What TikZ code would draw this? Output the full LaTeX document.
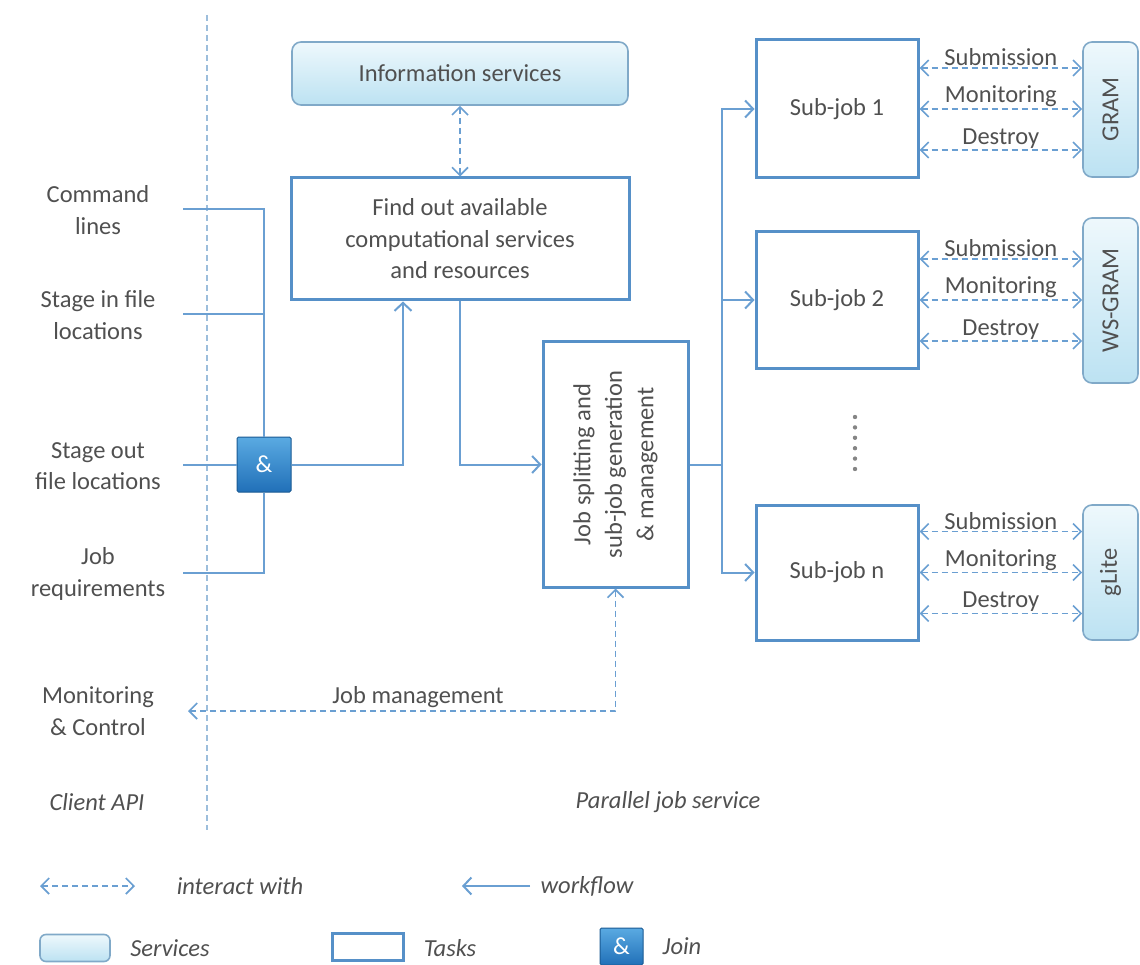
\documentclass[tikz,border=0pt]{standalone}
\usepackage{fontspec}
\setmainfont{Carlito}
\usetikzlibrary{arrows.meta,calc}
\definecolor{txt}{HTML}{505050}
\definecolor{wirec}{HTML}{6A9FD2}
\definecolor{taskc}{HTML}{5690C8}
\definecolor{servc}{HTML}{80A9C8}
\definecolor{servtop}{HTML}{EEF8FC}
\definecolor{servbot}{HTML}{BCE2F2}
\definecolor{jointop}{HTML}{5AAAE2}
\definecolor{joinbot}{HTML}{2170B8}
\definecolor{apiline}{HTML}{9DBEDC}
\begin{document}
\begin{tikzpicture}[x=1pt,y=-1pt,
  every node/.style={font=\fontsize{24.5}{31.5}\selectfont, text=txt},
  taskbox/.style={draw=taskc, line width=3pt, fill=white, align=center, inner sep=0pt},
  servbox/.style={draw=servc, line width=1.6pt, rounded corners=9pt, top color=servtop, bottom color=servbot, inner sep=0pt},
  joinbox/.style={draw=joinbot!80!black, line width=1pt, rounded corners=1.5pt, top color=jointop, bottom color=joinbot, text=white, inner sep=0pt},
  lbl/.style={align=center, inner sep=0pt},
  wire/.style={draw=wirec, line width=2pt},
  flow/.style={wire, -{Straight Barb[length=8pt,width=17pt,line width=2pt]}},
  interact/.style={draw=wirec, line width=1.7pt, dash pattern=on 6pt off 4pt,
    {Straight Barb[length=8pt,width=16pt,line width=1.7pt]}-{Straight Barb[length=8pt,width=16pt,line width=1.7pt]}},
  ital/.style={font=\fontsize{24.5}{31.5}\selectfont\itshape, inner sep=0pt}
]
\useasboundingbox (0,0) rectangle (1140,965);

% client API boundary
\draw[apiline, line width=1.5pt, dash pattern=on 6pt off 4pt] (207,15) -- (207,830);

% services and tasks
\node[servbox, minimum width=336pt, minimum height=63pt] (info) at (460,73.5) {Information services};
\node[taskbox, minimum width=338pt, minimum height=122pt] (find) at (460,239)
  {Find out available\\computational services\\and resources};
\node[joinbox, minimum width=54pt, minimum height=55pt] (join) at (264,464.5) {\&};
\node[taskbox, minimum width=145pt, minimum height=245pt] (js) at (615.5,464.5) {};
\node[rotate=90, lbl] (jstext) at (js.center) {Job splitting and\\sub-job generation\\\& management};

\node[taskbox, minimum width=162pt, minimum height=138pt] (sj1) at (837,109) {Sub-job 1};
\node[taskbox, minimum width=162pt, minimum height=136pt] (sj2) at (837,300) {Sub-job 2};
\node[taskbox, minimum width=162pt, minimum height=135pt] (sjn) at (837,572.5) {Sub-job n};

\node[servbox, minimum width=55pt, minimum height=135pt] (gram) at (1110.5,109.5) {};
\node[rotate=90, lbl] at (gram.center) {GRAM};
\node[servbox, minimum width=55pt, minimum height=165pt] (wsgram) at (1110.5,300.5) {};
\node[rotate=90, lbl] at (wsgram.center) {WS-GRAM};
\node[servbox, minimum width=55pt, minimum height=135pt] (glite) at (1110.5,572.5) {};
\node[rotate=90, lbl] at (glite.center) {gLite};

% vertical ellipsis between sub-jobs
\foreach \k in {0,...,5}
  \fill[txt!70] (855,{417+10.4*\k}) circle (2.2pt);

% client-side inputs
\node[lbl] (cmd) at (98,210) {Command\\lines};
\node[lbl] (stin) at (98,315) {Stage in file\\locations};
\node[lbl] (stout) at (98,466) {Stage out\\file locations};
\node[lbl] (jreq) at (98,574) {Job\\requirements};
\node[lbl] (mon) at (98,711) {Monitoring\\\& Control};
\node[ital] (capi) at (97,802) {Client API};
\node[ital] (pjs) at (668,802) {Parallel job service};

\coordinate (c1) at (183,209);
\coordinate (c2) at (183,314);
\coordinate (c3) at (183,464.5);
\coordinate (c4) at (183,573);
\coordinate (br) at (722,464.5);
\coordinate (mc) at (188,711);

% workflow
\draw[wire] (c1) -| (join.north);
\draw[wire] (c2) -- (c2 -| join.north);
\draw[wire] (c3) -- (join.west);
\draw[wire] (c4) -| (join.south);
\draw[flow] (join.east) -| ([xshift=-57pt]find.south);
\draw[flow] (find.south) |- (js.west);
\draw[wire] (js.east) -- (br);
\draw[flow] (br) |- (sj1.west);
\draw[flow] (br) |- (sj2.west);
\draw[flow] (br) |- (sjn.west);

% interactions
\draw[interact] (info.south) -- (find.north);
\draw[interact] (js.south) |- (mc);
\node[inner sep=0pt] (jm) at (418,697) {Job management};

\foreach \sj/\sv in {sj1/gram, sj2/wsgram, sjn/glite}{
  \draw[interact] ([yshift=41pt]\sj.east) -- ([yshift=41pt]\sj.east -| \sv.west)
    node[midway, above=1pt, inner sep=0pt] {Submission};
  \draw[interact] (\sj.east) -- (\sj.east -| \sv.west)
    node[midway, above=1pt, inner sep=0pt] {Monitoring};
  \draw[interact] ([yshift=-41pt]\sj.east) -- ([yshift=-41pt]\sj.east -| \sv.west)
    node[midway, above=1pt, inner sep=0pt] {Destroy};
}

% legend
\coordinate (la) at (40,886);
\coordinate (lb) at (135,886);
\coordinate (lc) at (530,886);
\coordinate (ld) at (462,886);
\draw[interact] (la) -- (lb);
\node[ital] (li) at (240,886) {interact with};
\draw[flow] (lc) -- (ld);
\node[ital] (lw) at (587,886) {workflow};
\node[servbox, minimum width=70pt, minimum height=27pt, rounded corners=6pt] (ls) at (75,948) {};
\node[ital] (lst) at (170,948) {Services};
\node[taskbox, minimum width=71pt, minimum height=27pt] (lt) at (367.5,946.5) {};
\node[ital] (ltt) at (450,948) {Tasks};
\node[joinbox, minimum width=43pt, minimum height=37pt] (lj) at (621.5,946.5) {\&};
\node[ital] (ljt) at (682,946) {Join};
\end{tikzpicture}
\end{document}
